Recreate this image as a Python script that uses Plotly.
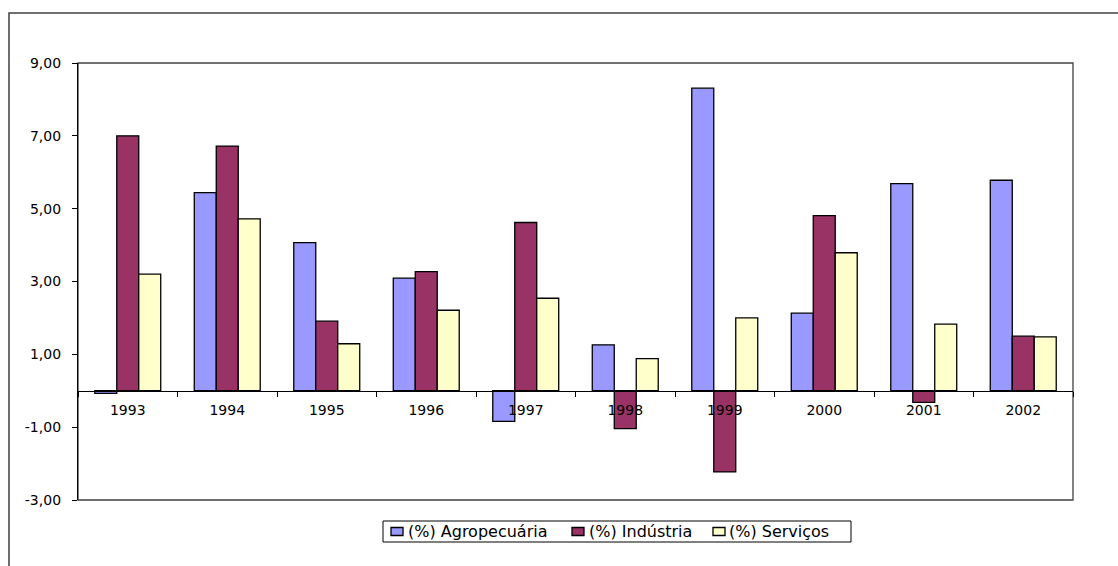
import plotly.graph_objects as go

# Annual growth rates by sector (%)
anos = ["1993", "1994", "1995", "1996", "1997", "1998", "1999", "2000", "2001", "2002"]
agropecuaria = [-0.07, 5.44, 4.07, 3.09, -0.84, 1.26, 8.31, 2.13, 5.69, 5.78]
industria = [7.00, 6.72, 1.91, 3.27, 4.62, -1.04, -2.23, 4.81, -0.32, 1.50]
servicos = [3.20, 4.72, 1.29, 2.21, 2.54, 0.88, 2.00, 3.79, 1.83, 1.48]

series_names = ["(%) Agropecuária", "(%) Indústria", "(%) Serviços"]
series_colors = ["#9999FF", "#993366", "#FFFFCC"]

y_ticks = [-3, -1, 1, 3, 5, 7, 9]
y_tick_text = ["-3,00", "-1,00", "1,00", "3,00", "5,00", "7,00", "9,00"]

W, H = 1118, 566
L, R, T, B = 78, 1073, 63, 500  # plot area in pixels
FONT = "DejaVu Sans"


def px_x(p):
    return (p - L) / (R - L)


def px_y(p):
    return (B - p) / (B - T)


fig = go.Figure()
for name, vals, col in zip(series_names, [agropecuaria, industria, servicos], series_colors):
    fig.add_trace(go.Bar(
        x=anos, y=vals, name=name,
        marker=dict(color=col, line=dict(color="#000000", width=1.3)),
        showlegend=False,
    ))

shapes = []
annotations = []

# plot-area frame
shapes.append(dict(type="rect", xref="paper", yref="paper", x0=0, x1=1, y0=0, y1=1,
                   line=dict(color="#404040", width=1.3), layer="below"))
# outer chart frame (runs off the right and bottom edges)
shapes.append(dict(type="rect", xref="paper", yref="paper",
                   x0=px_x(9), x1=px_x(W + 20), y0=px_y(W), y1=px_y(13),
                   line=dict(color="#404040", width=1.5)))

# legend box
shapes.append(dict(type="rect", xref="paper", yref="paper",
                   x0=px_x(383), x1=px_x(851), y0=px_y(542), y1=px_y(521),
                   line=dict(color="#000000", width=1), fillcolor="white"))
sq_x = [391, 572, 713]
txt_x = [408, 589, 729]
for sx, tx, name, col in zip(sq_x, txt_x, series_names, series_colors):
    shapes.append(dict(type="rect", xref="paper", yref="paper",
                       x0=px_x(sx), x1=px_x(sx + 12), y0=px_y(535.5), y1=px_y(527.5),
                       line=dict(color="#000000", width=1.3), fillcolor=col))
    annotations.append(dict(x=px_x(tx), y=px_y(531.5), xref="paper", yref="paper",
                            text=name, showarrow=False, xanchor="left", yanchor="middle",
                            xshift=-2,
                            font=dict(family=FONT, size=16, color="#000000")))

fig.update_layout(
    width=W, height=H,
    margin=dict(l=L, r=W - R, t=T, b=H - B, pad=0),
    paper_bgcolor="white", plot_bgcolor="white",
    barmode="group", bargap=0.337, bargroupgap=0,
    font=dict(family=FONT, size=14, color="#000000"),
    shapes=shapes, annotations=annotations,
    xaxis=dict(
        type="category", anchor="free", position=0.25,
        showline=True, linecolor="#000000", linewidth=1.3,
        ticks="outside", ticklen=5, tickcolor="#000000", tickson="boundaries",
        showgrid=False, zeroline=False, ticklabelstandoff=6,
        tickfont=dict(family=FONT, size=14, color="#000000"),
    ),
    yaxis=dict(
        range=[-3, 9], tickvals=y_ticks, ticktext=y_tick_text,
        showline=True, linecolor="#000000", linewidth=1.3,
        ticks="outside", ticklen=5, tickcolor="#000000",
        showgrid=False, zeroline=False, ticklabelstandoff=8,
        tickfont=dict(family=FONT, size=14, color="#000000"),
    ),
)

fig.write_html("out.html")
